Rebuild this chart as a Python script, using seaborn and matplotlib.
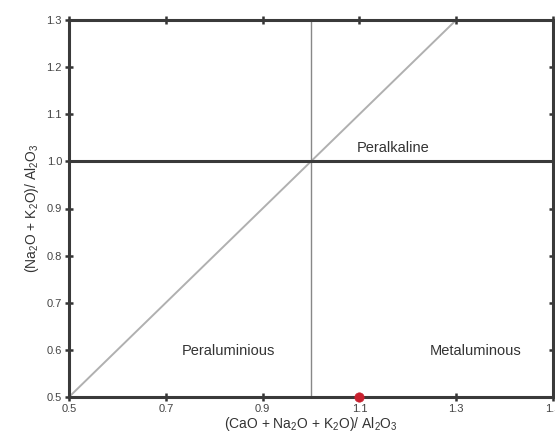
import matplotlib
matplotlib.use("Agg")
import matplotlib.pyplot as plt
import seaborn as sns
import numpy as np
import pandas as pd

sns.set_theme(style="white")
plt.rcParams['font.family'] = ['Liberation Sans', 'DejaVu Sans']
plt.rcParams['mathtext.fontset'] = 'custom'
plt.rcParams['mathtext.rm'] = 'Liberation Sans'
plt.rcParams['mathtext.it'] = 'Liberation Sans:italic'
plt.rcParams['mathtext.bf'] = 'Liberation Sans:bold'
plt.rcParams['mathtext.default'] = 'rm'

# Data
sample_x = [1.1]
sample_y = [0.5]
diag_x = [0.5, 1.3]
diag_y = [0.5, 1.3]
x_ticks = [0.5, 0.7, 0.9, 1.1, 1.3, 1.5]
y_ticks = [0.5, 0.6, 0.7, 0.8, 0.9, 1.0, 1.1, 1.2, 1.3]
x_tick_labels = ["0.5", "0.7", "0.9", "1.1", "1.3", "1.5"]
y_tick_labels = ["0.5", "0.6", "0.7", "0.8", "0.9", "1.0", "1.1", "1.2", "1.3"]
field_names = ["Peralkaline", "Peraluminious", "Metaluminous"]
field_x = [1.17, 0.83, 1.34]
field_y = [1.028, 0.598, 0.598]

fig = plt.figure(figsize=(5.55, 4.45), dpi=100)
ax = fig.add_axes([69/555, 1-397/445, 484/555, 377/445])

diag = pd.DataFrame({"x": diag_x, "y": diag_y})
sns.lineplot(data=diag, x="x", y="y", ax=ax, color="#b0b0b0", linewidth=1.4)
ax.axvline(1.0, color="#888888", linewidth=1.0, zorder=2)
ax.axhline(1.0, color="#3a3a3a", linewidth=2.2, zorder=3)

pts = pd.DataFrame({"x": sample_x, "y": sample_y})
sns.scatterplot(data=pts, x="x", y="y", ax=ax, color="#c8202e", s=45,
                edgecolor="#c8202e", zorder=10, clip_on=False)

for name, fx, fy in zip(field_names, field_x, field_y):
    ax.text(fx, fy, name, ha="center", va="center", fontsize=10.5, color="#333333")

ax.set_xlim(0.5, 1.5)
ax.set_ylim(0.5, 1.3)
ax.set_xticks(x_ticks)
ax.set_xticklabels(x_tick_labels)
ax.set_yticks(y_ticks)
ax.set_yticklabels(y_tick_labels)
ax.tick_params(axis="both", which="both", direction="inout", length=6, width=1.8,
               color="#333333", labelsize=8, labelcolor="#444444",
               top=True, right=True, bottom=True, left=True, pad=2)
for s in ax.spines.values():
    s.set_linewidth(2.2)
    s.set_color("#3a3a3a")

ax.set_xlabel("(CaO + Na$_2$O + K$_2$O)/ Al$_2$O$_3$", fontsize=10, color="#333333", labelpad=1)
ax.set_ylabel("(Na$_2$O + K$_2$O)/ Al$_2$O$_3$", fontsize=10, color="#333333", labelpad=4)

fig.savefig("out.png", dpi=100)
